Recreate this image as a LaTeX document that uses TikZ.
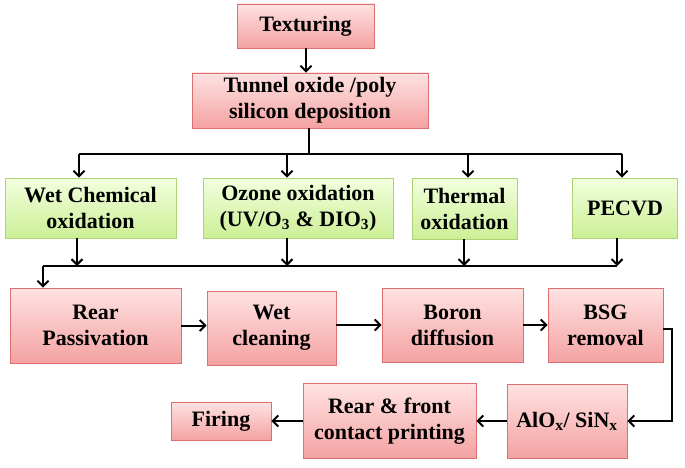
\documentclass[tikz,border=0pt]{standalone}
\usepackage{fontspec}
\setmainfont{Liberation Serif}
\usetikzlibrary{arrows.meta}
\definecolor{cffe2e2}{RGB}{255,226,226}
\definecolor{cf4a2a2}{RGB}{244,162,162}
\definecolor{cdc7070}{RGB}{220,112,112}
\definecolor{cf2ffde}{RGB}{242,255,222}
\definecolor{cccef96}{RGB}{204,239,150}
\definecolor{caed274}{RGB}{174,210,116}

\tikzset{
  pinkbox/.style={draw=cdc7070, line width=0.8pt, top color=cffe2e2,
    bottom color=cf4a2a2, inner sep=0pt, align=center,
    font=\fontsize{22}{26}\selectfont\bfseries},
  greenbox/.style={pinkbox, draw=caed274, top color=cf2ffde,
    bottom color=cccef96},
  flow/.style={draw=black, line width=2pt,
    -{Straight Barb[length=5.5pt,width=11pt]}},
  plain/.style={draw=black, line width=2pt}
}

\begin{document}
\begin{tikzpicture}[y=1pt,x=1pt,yscale=-1]
  \useasboundingbox (0,0) rectangle (685,468);

  \node[pinkbox, minimum width=137pt, minimum height=44pt] (tex)
    at (305.5,26) {Texturing};
  \node[pinkbox, minimum width=236pt, minimum height=55pt] (tun)
    at (310,100.5) {Tunnel oxide /poly\\silicon deposition};

  \node[greenbox, minimum width=171pt, minimum height=60pt] (wet)
    at (90.5,208) {Wet Chemical\\oxidation};
  \node[greenbox, minimum width=190pt, minimum height=60pt] (ozo)
    at (298,208) {Ozone oxidation\\(UV/O\textsubscript{3} \& DIO\textsubscript{3})};
  \node[greenbox, minimum width=105pt, minimum height=61pt] (the)
    at (464.5,208.5) {Thermal\\oxidation};
  \node[greenbox, minimum width=105pt, minimum height=60pt] (pec)
    at (625,208) {PECVD};

  \node[pinkbox, minimum width=171pt, minimum height=75pt] (rp)
    at (95.5,325.5) {Rear\\Passivation};
  \node[pinkbox, minimum width=129pt, minimum height=74pt] (wc)
    at (271.5,328) {Wet\\cleaning};
  \node[pinkbox, minimum width=141pt, minimum height=74pt] (bd)
    at (452.5,325) {Boron\\diffusion};
  \node[pinkbox, minimum width=115pt, minimum height=74pt] (bsg)
    at (605.5,325) {BSG\\removal};

  \node[pinkbox, minimum width=120pt, minimum height=74pt] (alo)
    at (567,421) {AlO\textsubscript{x}/ SiN\textsubscript{x}};
  \node[pinkbox, minimum width=173pt, minimum height=75pt] (rfc)
    at (389.5,421) {Rear \& front\\contact printing};
  \node[pinkbox, minimum width=100pt, minimum height=38pt] (fir)
    at (221,421) {Firing};

  % split
  \coordinate (split) at (309,154);
  \coordinate (s1) at (79,154);
  \coordinate (s2) at (287,154);
  \coordinate (s3) at (468,154);
  \coordinate (s4) at (622,154);
  \coordinate (down) at (306,0);
  \draw[flow] (down |- tex.south) -- (down |- tun.north);
  \draw[plain] (split |- tun.south) -- (split);
  \draw[plain] (s1) -- (s4);
  \draw[flow] (s1) -- (s1 |- wet.north);
  \draw[flow] (s2) -- (s2 |- ozo.north);
  \draw[flow] (s3) -- (s3 |- the.north);
  \draw[flow] (s4) -- (s4 |- pec.north);

  % merge
  \coordinate (m0) at (43,266);
  \coordinate (m1) at (77,266);
  \coordinate (m2) at (287,266);
  \coordinate (m3) at (464,266);
  \coordinate (m4) at (617,266);
  \draw[flow] (m1 |- wet.south) -- (m1);
  \draw[flow] (m2 |- ozo.south) -- (m2);
  \draw[flow] (m3 |- the.south) -- (m3);
  \draw[flow] (m4 |- pec.south) -- (m4);
  \draw[plain] (m0) -- (m4);
  \draw[flow] (m0) -- (m0 |- rp.north);

  \draw[flow] (rp.east) -- (rp.east -| wc.west);
  \draw[flow] (wc.east |- bd.east) -- (bd.east -| bd.west);
  \draw[flow] (bd.east) -- (bsg.west);
  \coordinate (turn) at (672,329);
  \draw[flow] (bsg.east |- turn) -- (turn) |- (alo.east);
  \draw[flow] (alo.west) -- (rfc.east);
  \draw[flow] (rfc.west) -- (fir.east);
\end{tikzpicture}
\end{document}
